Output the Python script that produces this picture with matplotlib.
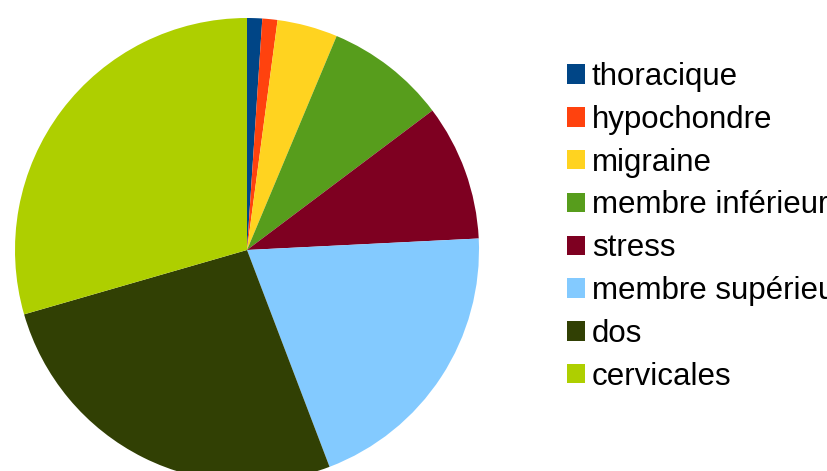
import matplotlib
matplotlib.use("Agg")
import matplotlib.pyplot as plt
from matplotlib.patches import Patch

plt.rcParams['font.family'] = ['Liberation Sans', 'DejaVu Sans']

# zones of pain, counts
labels = ['thoracique', 'hypochondre', 'migraine', 'membre inférieur',
          'stress', 'membre supérieur', 'dos', 'cervicales']
counts = [1, 1, 4, 8, 9, 19, 25, 28]
colors = ['#004586', '#ff420e', '#ffd320', '#579d1c',
          '#7e0021', '#83caff', '#314004', '#aecf00']

W, H = 827, 471
fig = plt.figure(figsize=(W / 100, H / 100), dpi=100)

# pie centre (247, 250) px from top-left, radius 232 px
cx, cy, r = 247, 250, 232
ax = fig.add_axes([(cx - r) / W, (H - cy - r) / H, 2 * r / W, 2 * r / H])
ax.pie(counts, colors=colors, startangle=90, counterclock=False, radius=1,
       wedgeprops=dict(linewidth=0))
ax.set_xlim(-1, 1)
ax.set_ylim(-1, 1)
ax.set_aspect('equal')
ax.axis('off')

handles = [Patch(facecolor=c, edgecolor='none') for c in colors]
fs = 22.5
fig.legend(handles, labels, loc='upper left',
           bbox_to_anchor=(567 / W, 1 - 62 / H), frameon=False, fontsize=fs,
           handlelength=0.58, handleheight=0.58, handletextpad=0.22,
           labelspacing=0.41, borderpad=0, borderaxespad=0)

fig.savefig('out.png', dpi=100)
